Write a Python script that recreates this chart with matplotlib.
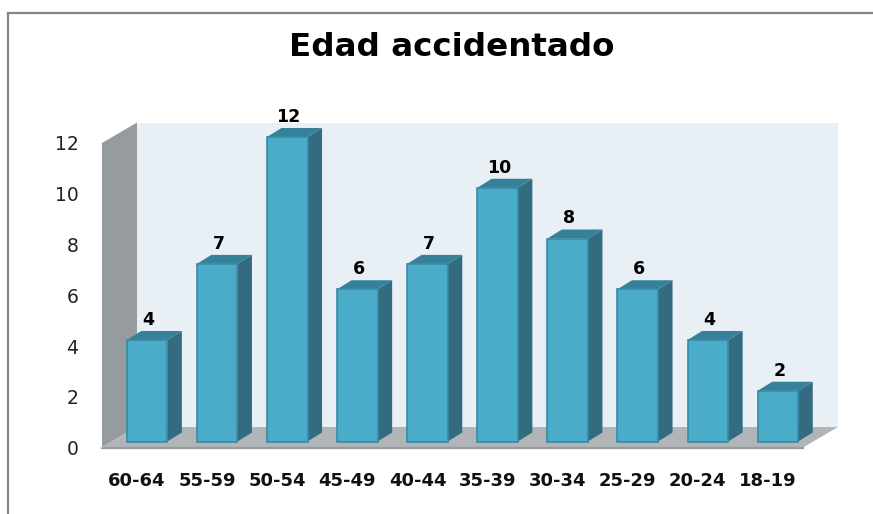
import matplotlib
matplotlib.use("Agg")
import matplotlib.pyplot as plt
from matplotlib.lines import Line2D
from matplotlib.patches import Polygon, Rectangle

categories = ["60-64", "55-59", "50-54", "45-49", "40-44", "35-39", "30-34", "25-29", "20-24", "18-19"]
values = [4, 7, 12, 6, 7, 10, 8, 6, 4, 2]
y_ticks = [0, 2, 4, 6, 8, 10, 12]
title = "Edad accidentado"

W, H = 873, 514
fig = plt.figure(figsize=(W / 100, H / 100), dpi=100, facecolor="white")
# front plane of the 3D box, in pixels
L, R, T, B = 102, 803, 143, 447.5
ax = fig.add_axes([L / W, 1 - B / H, (R - L) / W, (B - T) / H])
ax.set_xlim(-0.5, len(categories) - 0.5)
ax.set_ylim(0, 12)
ax.patch.set_visible(False)
for s in ax.spines.values():
    s.set_visible(False)

ux = (R - L) / len(categories)
uy = (B - T) / 12
ddx, ddy = 35 / ux, 20.5 / uy          # wall depth
bx, by = 10 / ux, 6 / uy               # bar front plane offset
sx, sy = 14.5 / ux, 9 / uy             # bar depth
hw = 20.3 / ux                         # half bar width


def poly(pts, color, z, ec="none", lw=0):
    ax.add_patch(Polygon(pts, closed=True, facecolor=color, edgecolor=ec, linewidth=lw,
                         zorder=z, clip_on=False))


x0, x1 = -0.5, len(categories) - 0.5
poly([(x0 + ddx, ddy), (x1 + ddx, ddy), (x1 + ddx, 12 + ddy), (x0 + ddx, 12 + ddy)], "#e8f0f6", 1)
poly([(x0, 0), (x0 + ddx, ddy), (x0 + ddx, 12 + ddy), (x0, 12)], "#969b9d", 2)
poly([(x0, 0), (x1, 0), (x1 + ddx, ddy), (x0 + ddx, ddy)], "#b1b5b8", 2)
ax.add_line(Line2D([x0, x1], [0, 0], color="#999c9e", lw=1.6, zorder=3, clip_on=False))
ax.add_line(Line2D([x0, x0 + ddx], [0, ddy], color="#b4b8ba", lw=1, zorder=3, clip_on=False))

for i, v in enumerate(values):
    cx = i + bx
    yb = by
    yt = v + by
    z = 4 + i * 0.01
    poly([(cx + hw, yb), (cx + hw + sx, yb + sy), (cx + hw + sx, yt + sy), (cx + hw, yt)], "#336c80", z)
    poly([(cx - hw, yt), (cx + hw, yt), (cx + hw + sx, yt + sy), (cx - hw + sx, yt + sy)], "#36819a", z)
    ax.add_patch(Rectangle((cx - hw, yb), 2 * hw, v, facecolor="#4aacc8", edgecolor="#3a8aa3",
                           linewidth=1.2, zorder=z + 0.001, clip_on=False))
    ax.annotate(str(v), xy=(cx, yt), xytext=(1, 8), textcoords="offset points", ha="center",
                va="bottom", fontsize=12.5, fontweight="bold", color="black", zorder=6,
                family="DejaVu Sans", annotation_clip=False)

ax.set_yticks(y_ticks)
ax.set_xticks(range(len(categories)))
ax.set_xticklabels(categories, fontsize=13, fontweight="bold", color="#111111")
ax.tick_params(axis="x", length=0, pad=17.5)
ax.tick_params(axis="y", length=0, pad=17, labelsize=13.5, labelcolor="#222222")

fig.text(452 / W, 1 - 47 / H, title, ha="center", va="center", fontsize=23.4, fontweight="bold",
         family="DejaVu Sans", color="black")

fig.add_artist(Line2D([8 / W, 1], [1 - 13 / H, 1 - 13 / H], color="#858585", lw=1.6))
fig.add_artist(Line2D([8 / W, 8 / W], [0, 1 - 13 / H], color="#858585", lw=1.6))

fig.savefig("out.png", dpi=100, facecolor="white")
